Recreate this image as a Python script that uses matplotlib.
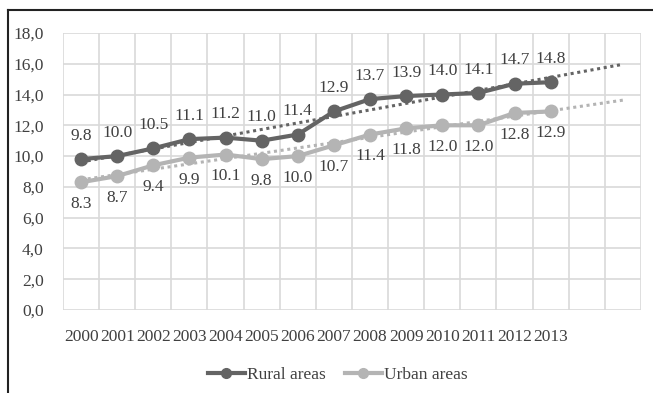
import numpy as np
import matplotlib.pyplot as plt
from matplotlib.lines import Line2D

years = ["2000", "2001", "2002", "2003", "2004", "2005", "2006",
         "2007", "2008", "2009", "2010", "2011", "2012", "2013"]
rural = [9.8, 10.0, 10.5, 11.1, 11.2, 11.0, 11.4, 12.9, 13.7, 13.9, 14.0, 14.1, 14.7, 14.8]
urban = [8.3, 8.7, 9.4, 9.9, 10.1, 9.8, 10.0, 10.7, 11.4, 11.8, 12.0, 12.0, 12.8, 12.9]
forecast_periods = 2

rural_color = "#646464"
urban_color = "#b4b4b4"
text_color = "#404040"
grid_color = "#d9d9d9"

plt.rcParams["font.family"] = ["Liberation Serif", "DejaVu Serif"]

fig = plt.figure(figsize=(6.53, 3.93), dpi=100)
ax = fig.add_axes([0.0965, 0.2112, 0.885, 0.705])

x = np.arange(len(years))
n_total = len(years) + forecast_periods

# linear trendlines, extended two periods forward
for vals, col in [(rural, rural_color), (urban, urban_color)]:
    k, b = np.polyfit(x, vals, 1)
    xt = np.arange(n_total)
    ax.plot(xt, k * xt + b, linestyle=(0, (1, 1.2)), color=col, lw=2.2, zorder=2)

ax.plot(x, rural, color=rural_color, lw=3, marker="o", ms=9, zorder=3, label="Rural areas")
ax.plot(x, urban, color=urban_color, lw=3, marker="o", ms=9, zorder=3, label="Urban areas")

for xi, v in zip(x, rural):
    ax.annotate(f"{v:.1f}", (xi, v), xytext=(0, 11), textcoords="offset points",
                ha="center", va="bottom", fontsize=12.5, color=text_color)
for xi, v in zip(x, urban):
    ax.annotate(f"{v:.1f}", (xi, v), xytext=(0, -10), textcoords="offset points",
                ha="center", va="top", fontsize=12.5, color=text_color)

ax.set_xlim(-0.5, n_total - 0.5)
ax.set_ylim(0, 18)
ax.set_yticks(np.arange(0, 18.1, 2))
ax.set_yticklabels([f"{t:.1f}".replace(".", ",") for t in np.arange(0, 18.1, 2)])
ax.set_xticks(x)
ax.set_xticklabels(years)
ax.set_xticks(np.arange(-0.5, n_total, 1), minor=True)

ax.grid(False)
ax.yaxis.grid(True, color=grid_color, lw=1.2)
ax.xaxis.grid(True, which="minor", color=grid_color, lw=1.2)
ax.set_axisbelow(True)
for s in ax.spines.values():
    s.set_visible(False)
ax.tick_params(axis="both", which="both", length=0, labelsize=12.5, colors=text_color)
ax.tick_params(axis="x", pad=14)
ax.tick_params(axis="y", pad=14)

handles = [Line2D([], [], color=rural_color, lw=3, marker="o", ms=7),
           Line2D([], [], color=urban_color, lw=3, marker="o", ms=7)]
fig.legend(handles, ["Rural areas", "Urban areas"], loc="center",
           bbox_to_anchor=(338 / 653, 1 - 375 / 393), ncol=2, frameon=False,
           fontsize=12.5, handlelength=2.1, handletextpad=0.15, columnspacing=1.1,
           labelcolor=text_color)

# outer chart frame (top and left edges)
fig.add_artist(Line2D([8 / 653, 1.0], [1 - 10 / 393, 1 - 10 / 393],
                      color="#222222", lw=1.5, transform=fig.transFigure))
fig.add_artist(Line2D([8 / 653, 8 / 653], [1 - 10 / 393, 0.0],
                      color="#222222", lw=1.5, transform=fig.transFigure))

fig.savefig("out.png", dpi=100)
